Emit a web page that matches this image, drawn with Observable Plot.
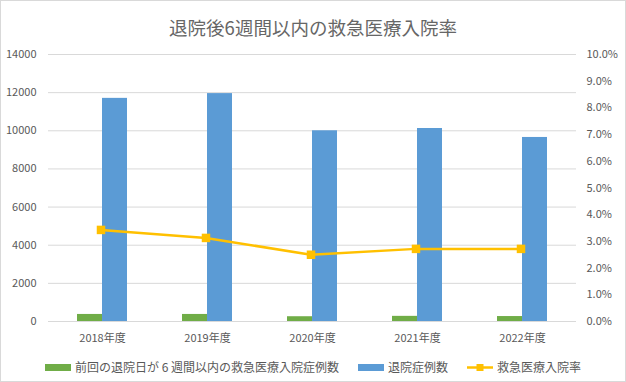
<!DOCTYPE html>
<html>
<head>
<meta charset="utf-8">
<script src="https://cdn.jsdelivr.net/npm/d3@7"></script>
<script src="https://cdn.jsdelivr.net/npm/@observablehq/plot@0.6"></script>
<style>
  html, body { margin: 0; padding: 0; background: #fff; }
  #chart {
    position: relative; width: 626px; height: 382px; background: #fff;
    box-shadow: inset 0 0 0 1px #d9d9d9; overflow: hidden;
    font-family: "Noto Sans CJK JP", "Noto Sans", sans-serif; color: #595959;
  }
  #title {
    position: absolute; top: 14px; left: 0; width: 626px; text-align: center;
    font-size: 18.5px; line-height: 26px; color: #666;
  }
  #plot { position: absolute; top: 40px; left: 0; }
  #legend {
    position: absolute; top: 358px; left: 0; width: 626px;
    display: flex; justify-content: center; gap: 19px; font-size: 12px; line-height: 18px;
  }
  .item { display: flex; align-items: center; gap: 4px; white-space: nowrap; }
  .sw { width: 26px; height: 7px; }
</style>
</head>
<body>
<div id="chart">
  <div id="title"></div>
  <div id="plot"></div>
  <div id="legend"></div>
</div>
<script>
const title = "退院後6週間以内の救急医療入院率";
const years = ["2018年度", "2019年度", "2020年度", "2021年度", "2022年度"];
const readmitCases = [370, 370, 250, 270, 260];        // 前回の退院日が 6 週間以内の救急医療入院症例数
const dischargeCases = [11700, 11950, 10000, 10120, 9650]; // 退院症例数
const readmitRate = [3.43, 3.13, 2.50, 2.72, 2.72];    // 救急医療入院率 (%)
const seriesNames = ["前回の退院日が 6 週間以内の救急医療入院症例数", "退院症例数", "救急医療入院率"];
const leftTicks = [0, 2000, 4000, 6000, 8000, 10000, 12000, 14000];
const rightTicks = [0, 1, 2, 3, 4, 5, 6, 7, 8, 9, 10]; // percent

const colors = ["#70AD47", "#5B9BD5", "#FFC000"];
const yMax = 14000, rMax = 10;
const toY = p => p / rMax * yMax;

const data = years.map((y, i) => ({year: y, readmit: readmitCases[i], discharge: dischargeCases[i], rate: readmitRate[i]}));

document.getElementById("title").textContent = title;

const plot = Plot.plot({
  width: 626, height: 310,
  marginTop: 14, marginBottom: 29, marginLeft: 48, marginRight: 50,
  style: {fontFamily: '"Noto Sans CJK JP", "Noto Sans", sans-serif', fontSize: "11px", color: "#595959", background: "transparent"},
  x: {domain: years, paddingInner: 0.5265, paddingOuter: 0.2633},
  y: {domain: [0, yMax]},
  marks: [
    Plot.gridY(leftTicks, {stroke: "#d9d9d9", strokeOpacity: 1, strokeWidth: 1}),
    Plot.barY(data, {x: "year", y: "readmit", fill: colors[0], insetRight: 25}),
    Plot.barY(data, {x: "year", y: "discharge", fill: colors[1], insetLeft: 25}),
    Plot.line(data, {x: "year", y: d => toY(d.rate), stroke: colors[2], strokeWidth: 2.5, dx: -1.5}),
    Plot.dot(data, {x: "year", y: d => toY(d.rate), symbol: "square", fill: colors[2], r: 4.8, dx: -1.5}),
    Plot.axisY(leftTicks, {anchor: "left", tickFormat: "d", tickSize: 0, tickPadding: 12, label: null}),
    Plot.axisY(rightTicks.map(toY), {anchor: "right", tickFormat: d => (d / yMax * rMax).toFixed(1) + "%", tickSize: 0, tickPadding: 10, label: null}),
    Plot.axisX({tickSize: 0, tickPadding: 13, label: null})
  ]
});
document.getElementById("plot").appendChild(plot);

const legend = document.getElementById("legend");
seriesNames.forEach((name, i) => {
  const item = document.createElement("div");
  item.className = "item";
  let sw;
  if (i < 2) {
    sw = `<div class="sw" style="background:${colors[i]}"></div>`;
  } else {
    sw = `<svg width="26" height="9"><line x1="0" x2="26" y1="4.5" y2="4.5" stroke="${colors[2]}" stroke-width="2.5"/><rect x="9.5" y="1" width="7" height="7" fill="${colors[2]}"/></svg>`;
  }
  item.innerHTML = sw + `<span>${name}</span>`;
  legend.appendChild(item);
});
</script>
</body>
</html>
